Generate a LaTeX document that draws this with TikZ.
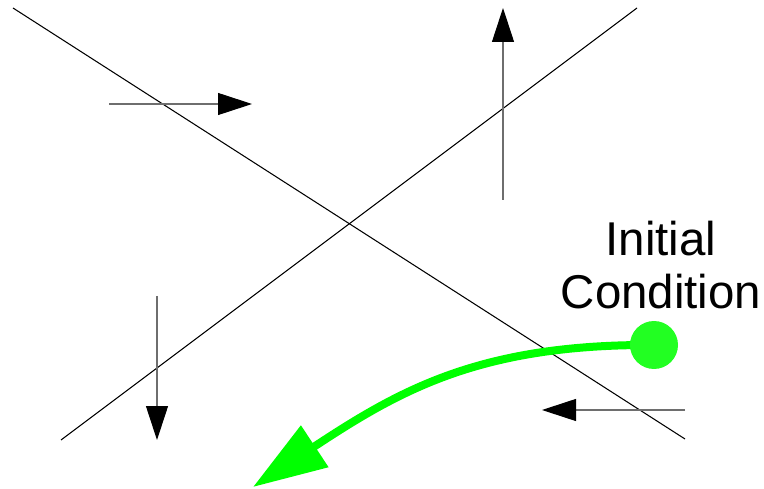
\documentclass[tikz,border=0pt]{standalone}
\usepackage{fontspec}
\setmainfont{Liberation Sans}
\usepackage{xcolor}
\usepackage{tikz}
\usetikzlibrary{arrows.meta}
\definecolor{icline}{HTML}{00FF00}
\definecolor{icdot}{HTML}{22FF22}
\definecolor{shaft}{HTML}{6E6E6E}

\begin{document}
\begin{tikzpicture}[
  x=0.02cm, y=-0.02cm,
  axis/.style={draw=black, line width=0.6pt},
  flow/.style={draw=shaft, line width=0.6pt, -{Triangle[length=0.68cm, width=0.44cm, color=black]}},
  traj/.style={draw=icline, line width=0.16cm, -{Triangle[length=1.48cm, width=0.96cm]}},
  icpt/.style={circle, fill=icdot, minimum size=0.96cm, inner sep=0pt},
  lbl/.style={align=center, font=\fontsize{27}{30.2}\selectfont}
]
  \useasboundingbox (0,0) rectangle (764,489);
  % separatrices
  \coordinate (sA) at (13,8);
  \coordinate (sB) at (685,439);
  \coordinate (uA) at (61,440);
  \coordinate (uB) at (637,8);
  \draw[axis] (sA) -- (sB);
  \draw[axis] (uA) -- (uB);
  % flow directions
  \coordinate (f1) at (109,104);  \coordinate (f1t) at (252,104);
  \coordinate (f2) at (503,200);  \coordinate (f2t) at (503,8);
  \coordinate (f3) at (157,296);  \coordinate (f3t) at (157,440);
  \coordinate (f4) at (685,410);  \coordinate (f4t) at (542,410);
  \draw[flow] (f1) -- (f1t);
  \draw[flow] (f2) -- (f2t);
  \draw[flow] (f3) -- (f3t);
  \draw[flow] (f4) -- (f4t);
  % trajectory from the initial condition
  \coordinate (start) at (654,345);
  \coordinate (end) at (253,487);
  \draw[traj] (start) .. controls (480,344) and (400,390) .. (end);
  \node[icpt] (ic) at (start) {};
  \node[lbl] (icl) at (661,265) {Initial\\Condition};
\end{tikzpicture}
\end{document}
